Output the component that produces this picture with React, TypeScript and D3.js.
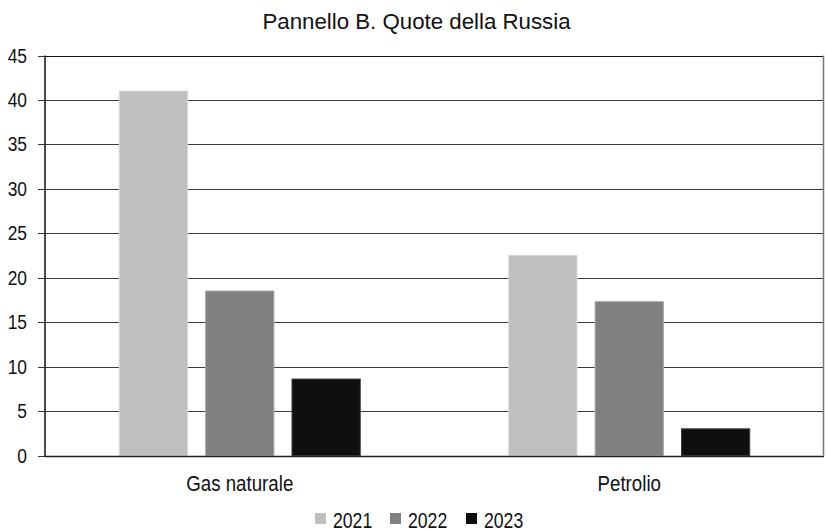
import React from "react";
import * as d3 from "d3";

const categories = ["Gas naturale", "Petrolio"];
const years = ["2021", "2022", "2023"];
const values2021 = [41, 22.5];
const values2022 = [18.5, 17.3];
const values2023 = [8.6, 3.0];
const yTicks = [0, 5, 10, 15, 20, 25, 30, 35, 40, 45];
const title = "Pannello B. Quote della Russia";

const seriesValues = [values2021, values2022, values2023];
const fills = ["#bfbfbf", "#808080", "#0f0f0f"];
const strokes = ["#d6d6d6", "#a6a6a6", "#3a3a3a"];

const W = 827;
const H = 531;
const left = 45;
const right = 824;
const top = 55.5;
const bottom = 455.5;
const font = "'Liberation Sans', Arial, sans-serif";

// Text drawn with a slight horizontal squeeze for a condensed look
function Label(props: {
  x: number;
  y: number;
  size: number;
  sx: number;
  anchor?: "start" | "middle" | "end";
  children: React.ReactNode;
}) {
  const { x, y, size, sx, anchor = "start", children } = props;
  return (
    <text
      transform={`translate(${x},${y}) scale(${sx},1)`}
      textAnchor={anchor}
      fontSize={size}
      fill="#111"
    >
      {children}
    </text>
  );
}

export default function App() {
  const x0 = d3.scaleBand<string>().domain(categories).range([left, right]).padding(0);
  const x1 = d3
    .scaleBand<string>()
    .domain(years)
    .range([0, x0.bandwidth()])
    .paddingInner(0.21)
    .paddingOuter(0.86);
  const y = d3.scaleLinear().domain([0, 45]).range([bottom, top]);

  const legendX = [315, 390, 466];

  return (
    <svg
      width={W}
      height={H}
      style={{ position: "absolute", left: 0, top: 0, background: "#fff" }}
      fontFamily={font}
    >
      <rect x={0} y={0} width={W} height={H} fill="#fff" />
      <Label x={416.5} y={29} size={22.5} sx={0.99} anchor="middle">
        {title}
      </Label>

      {/* gridlines */}
      {yTicks.map((t) => (
        <line
          key={"g" + t}
          x1={left}
          x2={right}
          y1={Math.round(y(t)) + 0.5}
          y2={Math.round(y(t)) + 0.5}
          stroke={t === 45 ? "#111" : "#3c3c3c"}
          strokeWidth={1}
        />
      ))}

      {/* bars */}
      {categories.map((c, ci) =>
        years.map((yr, si) => {
          const v = seriesValues[si][ci];
          const bx = (x0(c) as number) + (x1(yr) as number);
          return (
            <rect
              key={c + yr}
              x={bx}
              y={y(v)}
              width={x1.bandwidth()}
              height={bottom - y(v)}
              fill={fills[si]}
              stroke={strokes[si]}
              strokeWidth={1}
            />
          );
        })
      )}

      {/* plot frame */}
      <line x1={right - 0.5} x2={right - 0.5} y1={top} y2={bottom} stroke="#777" strokeWidth={1.5} />
      <line x1={left} x2={left} y1={top} y2={bottom + 0.5} stroke="#111" strokeWidth={1.5} />
      <line x1={left} x2={right} y1={Math.round(bottom) + 0.5} y2={Math.round(bottom) + 0.5} stroke="#222" strokeWidth={1.5} />

      {yTicks.map((t) => (
        <g key={"t" + t}>
          <line
            x1={38}
            x2={left}
            y1={Math.round(y(t)) + 0.5}
            y2={Math.round(y(t)) + 0.5}
            stroke="#333"
            strokeWidth={1}
          />
          <Label x={27} y={y(t) + 7} size={20} sx={0.87} anchor="end">
            {t}
          </Label>
        </g>
      ))}

      {categories.map((c) => (
        <Label
          key={c}
          x={(x0(c) as number) + x0.bandwidth() / 2}
          y={490.5}
          size={21.5}
          sx={0.87}
          anchor="middle"
        >
          {c}
        </Label>
      ))}

      {/* legend */}
      {years.map((yr, i) => (
        <g key={"l" + yr}>
          <rect x={legendX[i]} y={513} width={11} height={11} fill={fills[i]} />
          <Label x={legendX[i] + 18} y={527.5} size={21.5} sx={0.82}>
            {yr}
          </Label>
        </g>
      ))}
    </svg>
  );
}
